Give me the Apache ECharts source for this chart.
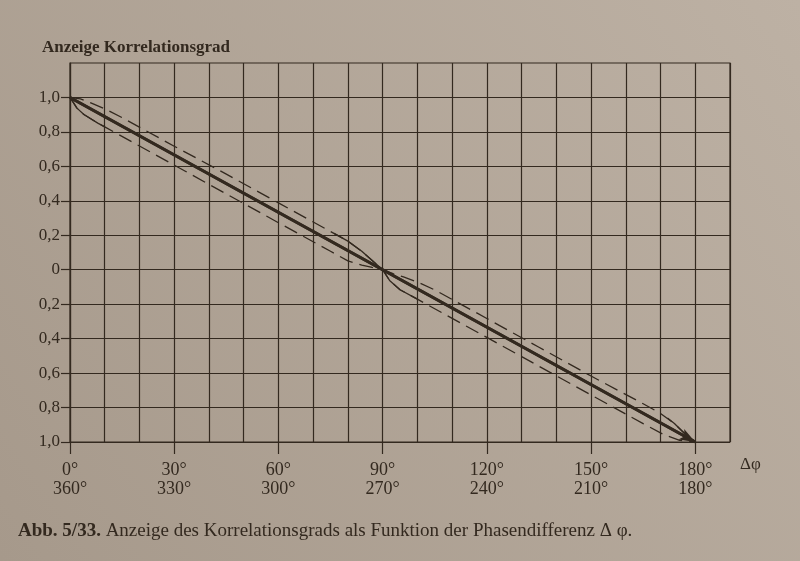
<!DOCTYPE html>
<html>
<head>
<meta charset="utf-8">
<script src="https://cdn.jsdelivr.net/npm/echarts@6/dist/echarts.min.js"></script>
<style>
  html, body { margin: 0; padding: 0; }
  #chart { width: 800px; height: 561px; }
</style>
</head>
<body>
<div id="chart"></div>
<script>
// Anzeige des Korrelationsgrads über der Phasendifferenz

// Achsen: Teilung der x-Achse (Grad) und Beschriftungen
const xTickValues = [0, 30, 60, 90, 120, 150, 180];
const xLabelsTop = ['0°', '30°', '60°', '90°', '120°', '150°', '180°'];
const xLabelsBottom = ['360°', '330°', '300°', '270°', '240°', '210°', '180°'];
const yTickValues = [1, 0.8, 0.6, 0.4, 0.2, 0, -0.2, -0.4, -0.6, -0.8, -1];
const yTickLabels = ['1,0', '0,8', '0,6', '0,4', '0,2', '0', '0,2', '0,4', '0,6', '0,8', '1,0'];

// Ideale Kennlinie (dicke Linie mit Pfeil)
const mainLine = [[0, 1], [180, -1]];

// Obere Toleranzkurve (gestrichelt)
const upperCurve = [
  [0, 1], [3, 0.992], [6, 0.968], [10, 0.934], [15, 0.883], [30, 0.717], [45, 0.555],
  [60, 0.388], [75, 0.222], [80, 0.166], [84, 0.107], [87, 0.053], [90, 0],
  [93, -0.023], [96, -0.042], [100, -0.071], [105, -0.117], [120, -0.283], [135, -0.45],
  [150, -0.617], [165, -0.778], [170, -0.834], [174, -0.893], [177, -0.952], [180, -1]
];
// Untere Toleranzkurve (gestrichelt)
const lowerCurve = [
  [0, 1], [2, 0.938], [4, 0.901], [8, 0.851], [10, 0.829], [30, 0.607], [45, 0.44],
  [60, 0.273], [75, 0.107], [80, 0.051], [84, 0.027], [87, 0.013], [90, 0],
  [92, -0.062], [95, -0.116], [100, -0.171], [120, -0.393], [150, -0.727],
  [165, -0.893], [171, -0.958], [175.5, -0.99], [180, -1]
];
// dünn durchgezogene Stücke an den Einschnürungen
const upperSolidA = [[76, 0.211], [80, 0.166], [84, 0.107], [87, 0.053], [90, 0]];
const upperSolidB = [[172, -0.861], [174, -0.893], [177, -0.952], [180, -1]];
const lowerSolidA = [[0, 1], [2, 0.938], [4, 0.901], [8, 0.851], [10, 0.829]];
const lowerSolidB = [[90, 0], [92, -0.062], [95, -0.116], [100, -0.171]];

const ink = '#33291f';
const serif = '"Liberation Serif", "DejaVu Serif", serif';

const chart = echarts.init(document.getElementById('chart'), null, { renderer: 'canvas' });

function thinLine(data, dashed) {
  return {
    type: 'line', data: data, symbol: 'none', silent: true, animation: false,
    lineStyle: { color: ink, width: 1.3, type: dashed ? [14, 7] : 'solid' }
  };
}

chart.setOption({
  backgroundColor: {
    type: 'linear', x: 1, y: 0, x2: 0, y2: 1,
    colorStops: [{ offset: 0, color: '#bdb1a4' }, { offset: 1, color: '#a6998b' }]
  },
  title: [
    { text: 'Anzeige Korrelationsgrad', left: 42, top: 39, padding: 0, textStyle: { fontFamily: serif, fontSize: 17, fontWeight: 'bold', color: ink } },
    {
      text: '{b|Abb. 5/33.} Anzeige des Korrelationsgrads als Funktion der Phasendifferenz Δ φ.',
      left: 18, top: 522, padding: 0,
      textStyle: {
        fontFamily: serif, fontSize: 19, fontWeight: 'normal', color: ink,
        rich: { b: { fontFamily: serif, fontSize: 19, fontWeight: 'bold', color: ink } }
      }
    }
  ],
  graphic: [
    { type: 'text', left: 740, top: 456, style: { text: 'Δφ', font: '17px ' + serif, fill: ink } }
  ],
  grid: { left: 70, right: 70, top: 63, bottom: 119, show: true, borderColor: ink, borderWidth: 1.2 },
  xAxis: [
    {
      // Rasterlinien alle 10°
      type: 'value', min: 0, max: 190, interval: 10,
      axisLine: { lineStyle: { color: ink, width: 1.2 } },
      axisTick: { show: false },
      axisLabel: { show: false },
      splitLine: { show: true, lineStyle: { color: ink, width: 1.2 } }
    },
    {
      // Striche und Beschriftung alle 30°
      type: 'value', min: 0, max: 190, position: 'bottom',
      axisLine: { show: false },
      axisTick: { show: true, length: 12, customValues: xTickValues, lineStyle: { color: ink, width: 1.2 } },
      axisLabel: {
        customValues: xTickValues, margin: 19, color: ink, fontFamily: serif, fontSize: 18, lineHeight: 19,
        formatter: (v) => {
          const i = xTickValues.indexOf(Math.round(v));
          return i < 0 ? '' : xLabelsTop[i] + '\n' + xLabelsBottom[i];
        }
      },
      splitLine: { show: false }
    }
  ],
  yAxis: {
    type: 'value', min: -1, max: 1.2, interval: 0.2,
    axisLine: { show: true, lineStyle: { color: ink, width: 1.2 } },
    axisTick: { show: true, length: 9, customValues: yTickValues, lineStyle: { color: ink, width: 1.2 } },
    axisLabel: {
      customValues: yTickValues, margin: 10, color: ink, fontFamily: serif, fontSize: 17,
      formatter: (v) => {
        const i = yTickValues.findIndex(t => Math.abs(t - v) < 1e-6);
        return i < 0 ? '' : yTickLabels[i];
      }
    },
    splitLine: { show: true, lineStyle: { color: ink, width: 1.2 } }
  },
  series: [
    thinLine(upperCurve, true),
    thinLine(lowerCurve, true),
    thinLine(upperSolidA, false),
    thinLine(upperSolidB, false),
    thinLine(lowerSolidA, false),
    thinLine(lowerSolidB, false),
    {
      type: 'line', data: mainLine, symbol: 'none', silent: true, animation: false,
      lineStyle: { color: ink, width: 3 },
      markLine: {
        silent: true, animation: false,
        symbol: ['none', 'arrow'], symbolSize: [9, 16],
        label: { show: false },
        lineStyle: { color: ink, width: 3, type: 'solid' },
        data: [[{ coord: mainLine[0] }, { coord: mainLine[1] }]]
      }
    }
  ]
});
</script>
</body>
</html>
